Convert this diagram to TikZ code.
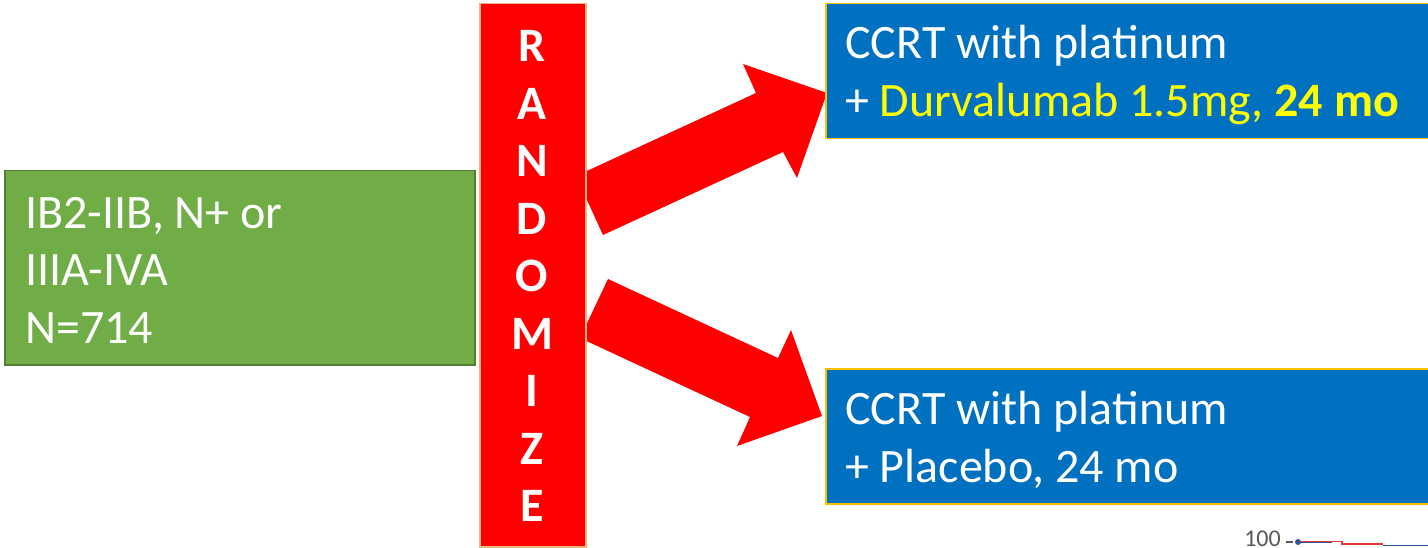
\documentclass[tikz,border=0pt]{standalone}
\usepackage{fontspec}
\setmainfont{Carlito}
\definecolor{boxgreen}{HTML}{70AD47}
\definecolor{boxgreenedge}{HTML}{507E32}
\definecolor{barred}{HTML}{FF0000}
\definecolor{baredge}{HTML}{F4B183}
\definecolor{boxblue}{HTML}{0070C0}
\definecolor{boxblueedge}{HTML}{FFC000}
\definecolor{hilite}{HTML}{FFFF00}
\definecolor{axisgrey}{HTML}{595959}
\definecolor{curveblue}{HTML}{2F5597}
\definecolor{curvered}{HTML}{E8373A}
\begin{document}
\begin{tikzpicture}[x=1pt,y=-1pt,
  bigtext/.style={font=\fontsize{48}{57.5}\selectfont, text=white, inner sep=0pt, align=left},
  panel/.style={draw, line width=1.5pt, inner sep=0pt},
  blockarrow/.style={fill=barred, draw=none}]
\useasboundingbox (0,0) rectangle (1428,548);

% block arrows (drawn first, the bar covers their tails)
\fill[blockarrow] (576,176) -- (756,93) -- (743,64) -- (827,93) -- (797,178) -- (783,152) -- (603,235) -- cycle;
\fill[blockarrow] (608,279) -- (778,358) -- (791,330) -- (822,416) -- (737,446) -- (750,417) -- (580,338) -- cycle;

% patient population
\node[panel, fill=boxgreen, draw=boxgreenedge, minimum width=470pt, minimum height=194pt, anchor=north west] (pop) at (4,170) {};
\node[bigtext, anchor=west] (poptext) at (25,270) {IB2-IIB, N+ or\\IIIA-IVA\\N=714};

% randomisation bar
\node[panel, fill=barred, draw=baredge, minimum width=106pt, minimum height=543pt, anchor=north west] (rand) at (479,3) {};
\node[bigtext, align=center, font=\fontsize{48}{57.5}\selectfont\bfseries] (randtext) at (532,276) {R\\A\\N\\D\\O\\M\\I\\Z\\E};

% treatment arms
\node[panel, fill=boxblue, draw=boxblueedge, minimum width=610pt, minimum height=135pt, anchor=north west] (armA) at (825,3) {};
\node[bigtext, anchor=west] (armAtext) at (845,75) {CCRT with platinum\\+ \textcolor{hilite}{Durvalumab 1.5mg, \textbf{24 mo}}};

\node[panel, fill=boxblue, draw=boxblueedge, minimum width=610pt, minimum height=135pt, anchor=north west] (armB) at (825,368) {};
\node[bigtext, anchor=west] (armBtext) at (845,440) {CCRT with platinum\\+ Placebo, 24 mo};

% corner of the survival plot below
\node[font=\fontsize{24}{26}\selectfont, text=axisgrey, inner sep=0pt, anchor=east] (ytick) at (1281,539) {100};
\coordinate (tickL) at (1286,542);
\coordinate (tickR) at (1293,542);
\draw[axisgrey, line width=1.5pt] (tickL) -- (tickR);
\draw[curveblue, line width=1.8pt] (1298,542) -- (1332,542);
\draw[curvered, line width=1.5pt] (1300,541.5) -- (1342,541.5) -- (1342,544) -- (1383,544);
\draw[curveblue, line width=1.5pt] (1383,545.5) -- (1428,545.5);
\fill[curveblue] (1298,542) circle (3pt);
\end{tikzpicture}
\end{document}
